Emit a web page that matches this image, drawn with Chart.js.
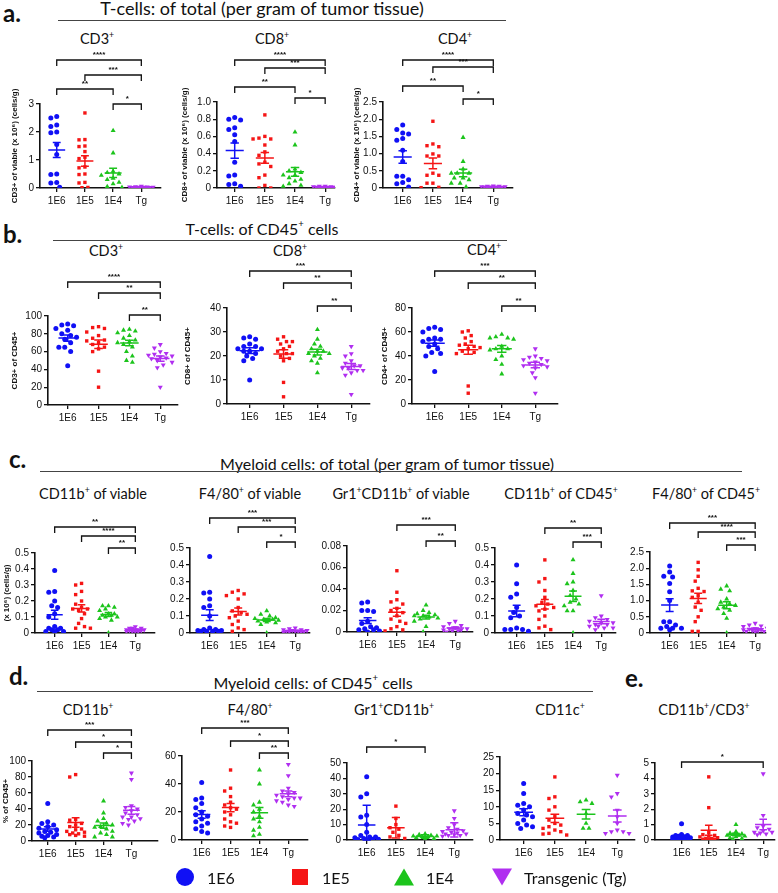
<!DOCTYPE html>
<html>
<head>
<meta charset="utf-8">
<script src="https://cdn.jsdelivr.net/npm/chart.js@4.4.1/dist/chart.umd.min.js"></script>
<style>
  body { margin: 0; background: #fff; }
  #fig { position: relative; width: 778px; height: 893px; overflow: hidden; font-family: Lato, 'Open Sans', sans-serif; color: #111; }
  .t { position: absolute; white-space: nowrap; transform: translate(-50%, -50%); }
  .sec { font-size: 16px; }
  .big { font-size: 18px; }
  .sub { font-size: 14.5px; }
  .letter { position: absolute; font-weight: 700; font-size: 24px; transform: translateY(-50%); }
  .rule { position: absolute; height: 1px; background: #444; }
  sup { font-size: 60%; vertical-align: top; position: relative; top: -0.1em; }
  canvas { position: absolute; }
  .lg { position: absolute; font-size: 16px; transform: translateY(-50%); }
  .mk { position: absolute; transform: translate(-50%, -50%); }
</style>
</head>
<body>
<div id="fig"></div>
<script>
const groups = ['1E6', '1E5', '1E4', 'Tg'];
const colors = ['#1010f5', '#f51515', '#1cc41c', '#b02ef0'];

// a. T-cells of total (x10^6 cells/g)
const cd3Viable = [
  [2.55, 2.5, 2.25, 2.2, 2.0, 1.97, 1.55, 1.2, 0.5, 0.48, 0.2, 0.18, 0.03],
  [2.68, 1.73, 1.72, 1.5, 1.48, 1.3, 1.1, 1.05, 0.75, 0.72, 0.5, 0.48, 0.2, 0.18, 0.02, 0.01],
  [2.05, 1.25, 0.6, 0.55, 0.5, 0.45, 0.35, 0.3, 0.2, 0.15, 0.05, 0.02],
  [0.06, 0.05, 0.04, 0.04, 0.03, 0.03, 0.03, 0.02, 0.02, 0.02, 0.01, 0.01]
];
const cd8Viable = [
  [0.82, 0.8, 0.79, 0.7, 0.68, 0.62, 0.54, 0.3, 0.15, 0.14, 0.05, 0.04, 0.02],
  [0.85, 0.6, 0.58, 0.57, 0.57, 0.5, 0.42, 0.38, 0.3, 0.28, 0.25, 0.15, 0.12, 0.03, 0.0, 0.0],
  [0.65, 0.5, 0.22, 0.2, 0.18, 0.15, 0.15, 0.12, 0.1, 0.08, 0.05, 0.03, 0.02],
  [0.02, 0.02, 0.015, 0.015, 0.01, 0.01, 0.01, 0.01, 0.008, 0.005, 0.005, 0.003]
];
const cd4Viable = [
  [1.83, 1.7, 1.6, 1.57, 1.44, 1.39, 1.1, 0.77, 0.34, 0.34, 0.24, 0.16, 0.12, 0.03],
  [1.94, 1.28, 1.23, 1.2, 0.99, 0.93, 0.93, 0.43, 0.37, 0.37, 0.14, 0.14, 0.02, 0.01],
  [1.47, 0.77, 0.55, 0.43, 0.43, 0.43, 0.29, 0.29, 0.24, 0.14, 0.14, 0.03],
  [0.06, 0.05, 0.05, 0.04, 0.04, 0.03, 0.03, 0.03, 0.02, 0.02, 0.02, 0.01]
];

// b. T-cells of CD45+ (%)
const cd3OfCd45 = [
  [91, 90, 89, 86, 84, 80, 78, 76, 74, 70, 65, 65, 60, 44],
  [88, 87, 86, 82, 78, 75, 73, 72, 70, 68, 65, 63, 60, 38, 20],
  [85, 84, 83, 81, 78, 75, 73, 71, 70, 68, 65, 60, 55, 50, 48],
  [68, 64, 60, 58, 57, 56, 55, 54, 53, 52, 50, 48, 45, 42, 20]
];
const cd8OfCd45 = [
  [28, 27.5, 27, 25, 24, 24, 23, 23, 22, 22, 21, 20, 19, 18, 10],
  [28, 27, 26, 26, 25, 24, 23, 22, 21, 21, 20, 19, 18, 9, 3],
  [31, 27, 25, 24, 23, 22, 22, 21, 21, 20, 19, 18, 17, 13],
  [24, 21, 20, 18, 17, 16, 16, 15, 15, 14, 14, 13, 12, 4]
];
const cd4OfCd45 = [
  [64, 63, 62, 60, 55, 54, 54, 52, 50, 48, 46, 43, 42, 40, 27],
  [61, 60, 57, 55, 52, 50, 49, 48, 47, 46, 44, 43, 42, 15, 9],
  [58, 56, 55, 55, 54, 48, 46, 46, 45, 40, 37, 33, 25],
  [46, 40, 39, 38, 37, 36, 35, 34, 33, 32, 31, 30, 26, 22, 9]
];

// c. Myeloid cells of total
const cd11bViable = [
  [0.39, 0.26, 0.255, 0.2, 0.17, 0.16, 0.12, 0.1, 0.04, 0.03, 0.03, 0.02, 0.02, 0.01, 0.01, 0.01],
  [0.31, 0.3, 0.26, 0.24, 0.2, 0.18, 0.16, 0.15, 0.15, 0.14, 0.12, 0.09, 0.06, 0.04, 0.03, 0.03],
  [0.17, 0.17, 0.16, 0.15, 0.14, 0.12, 0.12, 0.11, 0.11, 0.1, 0.1, 0.09, 0.08, 0.0],
  [0.04, 0.03, 0.03, 0.03, 0.02, 0.02, 0.02, 0.02, 0.02, 0.015, 0.015, 0.01, 0.01, 0.01, 0.01]
];
const f480Viable = [
  [0.45, 0.24, 0.235, 0.2, 0.16, 0.15, 0.1, 0.03, 0.02, 0.02, 0.015, 0.015, 0.01, 0.01, 0.01, 0.01],
  [0.25, 0.24, 0.23, 0.22, 0.2, 0.15, 0.13, 0.12, 0.11, 0.1, 0.09, 0.07, 0.05, 0.03, 0.02, 0.01],
  [0.13, 0.11, 0.1, 0.09, 0.085, 0.08, 0.08, 0.075, 0.07, 0.065, 0.06, 0.05, 0.0],
  [0.03, 0.025, 0.02, 0.02, 0.015, 0.015, 0.01, 0.01, 0.01, 0.01, 0.008, 0.005, 0.005]
];
const gr1Viable = [
  [0.028, 0.027, 0.02, 0.02, 0.019, 0.01, 0.008, 0.005, 0.004, 0.003, 0.002, 0.002, 0.001, 0.0],
  [0.057, 0.037, 0.03, 0.028, 0.026, 0.022, 0.02, 0.018, 0.015, 0.012, 0.01, 0.008, 0.005, 0.003, 0.002, 0.001],
  [0.025, 0.02, 0.018, 0.017, 0.016, 0.015, 0.015, 0.014, 0.013, 0.012, 0.01, 0.005, 0.0],
  [0.01, 0.008, 0.006, 0.005, 0.004, 0.003, 0.003, 0.002, 0.002, 0.001, 0.001, 0.0]
];
const cd11bOfCd45 = [
  [0.4, 0.29, 0.23, 0.21, 0.15, 0.12, 0.1, 0.09, 0.03, 0.02, 0.02, 0.02, 0.01],
  [0.43, 0.32, 0.3, 0.25, 0.21, 0.18, 0.17, 0.16, 0.15, 0.14, 0.13, 0.1, 0.08, 0.04, 0.03, 0.02],
  [0.43, 0.35, 0.3, 0.29, 0.25, 0.22, 0.2, 0.18, 0.17, 0.16, 0.13, 0.13, 0.0],
  [0.22, 0.1, 0.09, 0.08, 0.07, 0.06, 0.06, 0.05, 0.05, 0.04, 0.04, 0.03, 0.03, 0.02]
];
const f480OfCd45 = [
  [2.07, 1.88, 1.75, 1.73, 1.53, 1.27, 1.0, 0.35, 0.35, 0.25, 0.2, 0.15, 0.15, 0.15, 0.1],
  [2.18, 1.95, 1.75, 1.6, 1.38, 1.3, 1.28, 1.15, 1.1, 0.95, 0.8, 0.7, 0.5, 0.35, 0.05, 0.05],
  [1.45, 1.35, 1.3, 1.05, 0.95, 0.9, 0.85, 0.8, 0.75, 0.7, 0.6, 0.45, 0.0],
  [0.3, 0.25, 0.22, 0.2, 0.15, 0.13, 0.12, 0.1, 0.1, 0.08, 0.07, 0.05, 0.05, 0.03]
];

// d. Myeloid cells, % of CD45+
const cd11bPct = [
  [47, 24, 22, 20, 18, 16, 14, 12, 11, 10, 8, 7, 6, 5, 4],
  [83, 80, 27, 26, 22, 20, 18, 15, 14, 12, 11, 10, 9, 8, 7, 6],
  [50, 35, 28, 25, 22, 20, 18, 17, 15, 12, 10, 8, 5, 5],
  [85, 77, 44, 42, 40, 38, 35, 33, 30, 30, 28, 27, 25, 22, 20]
];
const f480Pct = [
  [41, 30, 29, 26, 23, 20, 18, 17, 15, 13, 12, 10, 8, 6, 5],
  [50, 37, 35, 31, 27, 25, 23, 22, 20, 18, 15, 13, 12, 10, 9],
  [50, 40, 27, 25, 22, 20, 17, 15, 13, 9, 7, 4, 3],
  [54, 46, 37, 35, 34, 33, 32, 31, 30, 30, 29, 28, 27, 25, 24]
];
const gr1Pct = [
  [41, 30, 28, 16, 15, 10, 5, 3, 2, 2, 1.5, 1, 0.5, 0.5, 0.3, 0.2],
  [22, 14, 10, 8, 7, 5, 3, 2, 1],
  [4, 3.5, 3, 2.5, 2.5, 2, 2, 1.5, 1, 0.5],
  [19, 14, 10, 8, 7, 6, 5.5, 5, 4.5, 4, 4, 3.5, 3, 3, 2.5]
];
const cd11cPct = [
  [17, 14, 11, 10.5, 10, 9, 8, 7.5, 7, 6, 5, 4.5, 4, 3.5],
  [19, 13, 12.5, 10, 9, 7, 6, 5, 4.5, 4, 3.5, 3, 2.5, 2, 1.8, 1.5],
  [12, 11.5, 11, 8, 5, 3.5, 3.5],
  [19.5, 14, 13, 9, 7, 5, 3, 2.5, 2.5, 2, 2]
];

// e. CD11b+/CD3+ ratio
const cd11bCd3Ratio = [
  [1.05, 0.35, 0.3, 0.3, 0.25, 0.2, 0.2, 0.15, 0.15, 0.1, 0.1, 0.1, 0.05, 0.05],
  [4.1, 2.1, 0.5, 0.35, 0.3, 0.25, 0.2, 0.15, 0.1, 0.1, 0.05, 0.05, 0.05],
  [1.0, 0.55, 0.45, 0.4, 0.35, 0.3, 0.3, 0.25, 0.2, 0.15, 0.1, 0.05],
  [4.3, 1.6, 0.9, 0.8, 0.7, 0.6, 0.5, 0.5, 0.45, 0.4, 0.35]
];

// panel geometry in page pixels: y axis x, first/last category x, axis end, top tick y, zero y
const panels = [
  { data: cd3Viable, axisX: 40, c0: 57, c3: 143, end: 163, top: 104, zero: 188, max: 3, step: 1, dec: 0,
    title: 'CD3+ of viable (x 10\u2076) (cells/g)', left: 10,
    brackets: [[0, 3, 60, '****'], [1, 3, 75, '***'], [0, 2, 89, '**'], [2, 3, 104, '*']] },
  { data: cd8Viable, axisX: 217, c0: 235, c3: 327, end: 337, top: 102, zero: 188, max: 1, step: 0.2, dec: 1,
    title: 'CD8+ of viable (x 10\u2076) (cells/g)', left: 180,
    brackets: [[0, 3, 60, '****'], [1, 3, 68, '***'], [0, 2, 87, '**'], [2, 3, 98, '*']] },
  { data: cd4Viable, axisX: 383, c0: 403, c3: 495, end: 515, top: 102, zero: 188, max: 2.5, step: 0.5, dec: 1,
    title: 'CD4+ of viable (x 10\u2076) (cells/g)', left: 352,
    brackets: [[0, 3, 60, '****'], [1, 3, 67, '***'], [0, 2, 86, '**'], [2, 3, 99, '*']] },

  { data: cd3OfCd45, axisX: 48, c0: 68, c3: 162, end: 180, top: 316, zero: 405, max: 100, step: 20, dec: 0,
    title: 'CD3+ of CD45+', left: 10,
    brackets: [[0, 3, 282, '****'], [1, 3, 293, '**'], [2, 3, 315, '**']] },
  { data: cd8OfCd45, axisX: 227, c0: 250, c3: 353, end: 372, top: 308, zero: 404, max: 40, step: 10, dec: 0,
    title: 'CD8+ of CD45+', left: 183,
    brackets: [[0, 3, 271, '***'], [1, 3, 283, '**'], [2, 3, 306, '**']] },
  { data: cd4OfCd45, axisX: 412, c0: 435, c3: 537, end: 560, top: 308, zero: 404, max: 80, step: 20, dec: 0,
    title: 'CD4+ of CD45+', left: 380,
    brackets: [[0, 3, 271, '***'], [1, 3, 283, '**'], [2, 3, 306, '**']] },

  { data: cd11bViable, axisX: 35, c0: 55, c3: 137, end: 157, top: 553, zero: 633, max: 0.5, step: 0.1, dec: 1,
    title: '(x 10\u2076) (cells/g)', left: 2,
    brackets: [[0, 3, 527, '**'], [1, 3, 536, '****'], [2, 3, 548, '**']] },
  { data: f480Viable, axisX: 190, c0: 210, c3: 297, end: 312, top: 548, zero: 633, max: 0.5, step: 0.1, dec: 1,
    brackets: [[0, 3, 518, '***'], [1, 3, 527, '***'], [2, 3, 542, '*']] },
  { data: gr1Viable, axisX: 347, c0: 368, c3: 457, end: 475, top: 546, zero: 632, max: 0.08, step: 0.02, dec: 2,
    brackets: [[1, 3, 525, '***'], [2, 3, 541, '**']] },
  { data: cd11bOfCd45, axisX: 495, c0: 517, c3: 603, end: 618, top: 548, zero: 633, max: 0.5, step: 0.1, dec: 1,
    brackets: [[1, 3, 528, '**'], [2, 3, 542, '***']] },
  { data: f480OfCd45, axisX: 650, c0: 670, c3: 757, end: 768, top: 552, zero: 633, max: 2.5, step: 0.5, dec: 1,
    brackets: [[0, 3, 523, '***'], [1, 3, 532, '****'], [2, 3, 545, '***']] },

  { data: cd11bPct, axisX: 32, c0: 48, c3: 133, end: 160, top: 761, zero: 841, max: 100, step: 20, dec: 0,
    title: '% of CD45+', left: 1,
    brackets: [[0, 3, 730, '***'], [1, 3, 742, '*'], [2, 3, 753, '*']] },
  { data: f480Pct, axisX: 182, c0: 202, c3: 290, end: 310, top: 756, zero: 840, max: 60, step: 20, dec: 0,
    brackets: [[0, 3, 728, '***'], [1, 3, 741, '*'], [2, 3, 753, '**']] },
  { data: gr1Pct, axisX: 347, c0: 367, c3: 456, end: 475, top: 763, zero: 840, max: 50, step: 10, dec: 0, sd: true,
    brackets: [[0, 2, 747, '*']] },
  { data: cd11cPct, axisX: 500, c0: 524, c3: 619, end: 637, top: 757, zero: 840, max: 25, step: 5, dec: 0,
    brackets: [] },
  { data: cd11bCd3Ratio, axisX: 655, c0: 682, c3: 765, end: 777, top: 763, zero: 840, max: 5, step: 1, dec: 0,
    brackets: [[0, 3, 762, '*']] }
];

const fig = document.getElementById('fig');

function addText(html, x, y, cls) {
  const d = document.createElement('div');
  d.className = cls;
  d.style.left = x + 'px';
  d.style.top = y + 'px';
  d.innerHTML = html;
  fig.appendChild(d);
}
function addRule(x1, x2, y) {
  const d = document.createElement('div');
  d.className = 'rule';
  d.style.left = x1 + 'px';
  d.style.top = y + 'px';
  d.style.width = (x2 - x1) + 'px';
  fig.appendChild(d);
}

// spread points sideways so equal values do not pile up; stay inside the column
function swarm(vals, pxPerUnit, pxPerCat) {
  const placed = [];
  const maxOff = pxPerCat * 0.42;
  const minD2 = 30;
  return vals.slice().sort((a, b) => b - a).map((v) => {
    const yPx = v * pxPerUnit;
    let best = 0, bestD = -1;
    for (let k = 0; k < 40; k++) {
      const cand = (k % 2 ? -1 : 1) * Math.ceil(k / 2) * 3;
      if (Math.abs(cand) > maxOff) break;
      const d = placed.reduce((m, p) => Math.min(m, (p.x - cand) ** 2 + (p.y - yPx) ** 2), Infinity);
      if (d >= minD2) { best = cand; bestD = d; break; }
      if (d > bestD) { best = cand; bestD = d; }
    }
    placed.push({ x: best, y: yPx });
    return { off: best / pxPerCat, v };
  });
}

const meanBars = {
  id: 'meanBars',
  afterDatasetsDraw(chart, args, opts) {
    const { ctx, scales: { x, y } } = chart;
    ctx.save();
    ctx.lineWidth = 1.5;
    opts.groups.forEach((vals, g) => {
      const n = vals.length;
      const m = vals.reduce((s, v) => s + v, 0) / n;
      const sd = Math.sqrt(vals.reduce((s, v) => s + (v - m) ** 2, 0) / (n - 1));
      const e = opts.sd ? sd : sd / Math.sqrt(n);
      const ym = y.getPixelForValue(m), y1 = y.getPixelForValue(m + e), y2 = y.getPixelForValue(Math.max(m - e, 0));
      ctx.strokeStyle = colors[g];
      ctx.beginPath();
      ctx.moveTo(x.getPixelForValue(g - 0.3), ym); ctx.lineTo(x.getPixelForValue(g + 0.3), ym);
      ctx.moveTo(x.getPixelForValue(g), y1); ctx.lineTo(x.getPixelForValue(g), y2);
      ctx.moveTo(x.getPixelForValue(g - 0.14), y1); ctx.lineTo(x.getPixelForValue(g + 0.14), y1);
      ctx.moveTo(x.getPixelForValue(g - 0.14), y2); ctx.lineTo(x.getPixelForValue(g + 0.14), y2);
      ctx.stroke();
    });
    ctx.restore();
  }
};

const sigBrackets = {
  id: 'sigBrackets',
  afterDraw(chart, args, opts) {
    const { ctx, scales: { x } } = chart;
    ctx.save();
    ctx.strokeStyle = '#111';
    ctx.fillStyle = '#111';
    ctx.lineWidth = 1.3;
    ctx.font = 'bold 8px "Liberation Sans", Arial, sans-serif';
    ctx.textAlign = 'center';
    opts.list.forEach(([i, j, py, stars]) => {
      const yy = py - opts.offsetY;
      const x1 = x.getPixelForValue(i), x2 = x.getPixelForValue(j);
      ctx.beginPath();
      ctx.moveTo(x1, yy + 6); ctx.lineTo(x1, yy); ctx.lineTo(x2, yy); ctx.lineTo(x2, yy + 6);
      ctx.stroke();
      ctx.fillText(stars, (x1 + x2) / 2, yy - 3);
    });
    ctx.restore();
  }
};

function drawPanel(p) {
  const s = (p.c3 - p.c0) / 3;
  const xMin = -(p.c0 - p.axisX) / s;
  const xMax = 3 + (p.end - p.c3) / s;
  const left = p.left !== undefined ? p.left : p.axisX - 30;
  const top = Math.min(p.top - 10, ...p.brackets.map((b) => b[2] - 14));
  const bottom = p.zero + 24;
  const w = p.end - left + 2;
  const h = bottom - top;
  const canvas = document.createElement('canvas');
  canvas.width = w; canvas.height = h;
  canvas.style.left = left + 'px'; canvas.style.top = top + 'px';
  canvas.style.width = w + 'px'; canvas.style.height = h + 'px';
  fig.appendChild(canvas);

  const pxPerUnit = (p.zero - p.top) / p.max;
  const datasets = p.data.map((vals, g) => ({
    label: groups[g],
    data: swarm(vals, pxPerUnit, s).map((d) => ({ x: g + d.off, y: d.v })),
    pointStyle: ['circle', 'rect', 'triangle', 'triangle'][g],
    rotation: g === 3 ? 180 : 0,
    pointRadius: [2.5, 2.4, 2.9, 2.9][g],
    backgroundColor: colors[g],
    borderColor: colors[g],
    borderWidth: 0
  }));

  const tickFont = { family: '"Liberation Sans", Arial, sans-serif', size: 10 };
  new Chart(canvas, {
    type: 'scatter',
    data: { datasets },
    options: {
      responsive: false,
      animation: false,
      layout: { padding: { top: p.top - top, right: 2, left: 0, bottom: 0 } },
      plugins: {
        legend: { display: false },
        tooltip: { enabled: false },
        meanBars: { groups: p.data, sd: !!p.sd },
        sigBrackets: { list: p.brackets, offsetY: top }
      },
      scales: {
        x: {
          type: 'linear', min: xMin, max: xMax,
          afterBuildTicks: (ax) => { ax.ticks = [0, 1, 2, 3].map((v) => ({ value: v })); },
          afterFit: (ax) => { ax.height = bottom - p.zero; },
          ticks: { autoSkip: false, maxRotation: 0, color: '#111', font: tickFont, padding: 3, callback: (v) => groups[v] },
          grid: { drawOnChartArea: false, color: '#111', tickLength: 4, lineWidth: 1.3 },
          border: { color: '#111', width: 1.6 }
        },
        y: {
          min: 0, max: p.max,
          afterFit: (ax) => { ax.width = p.axisX - left; },
          ticks: { stepSize: p.step, color: '#111', font: tickFont, padding: 2,
            callback: (v) => (Math.abs(v) < 1e-9 ? '0' : v.toFixed(p.dec)) },
          grid: { drawOnChartArea: false, color: '#111', tickLength: 4, lineWidth: 1.3 },
          border: { color: '#111', width: 1.6 },
          title: { display: !!p.title, text: p.title || '', color: '#111', padding: 0,
            font: { family: '"Liberation Sans", Arial, sans-serif', size: 8, weight: 'bold' } }
        }
      }
    },
    plugins: [meanBars, sigBrackets]
  });
}

// section letters, titles and rules
addText('a.', 3, 12, 'letter');
addText('T-cells: of total (per gram of tumor tissue)', 262, 8, 't big');
addRule(58, 506, 20);
addText('CD3<sup>+</sup>', 97, 38, 't sub');
addText('CD8<sup>+</sup>', 272, 38, 't sub');
addText('CD4<sup>+</sup>', 455, 38, 't sub');

addText('b.', 3, 233, 'letter');
addText('T-cells: of CD45<sup>+</sup> cells', 262, 228, 't sec');
addRule(53, 507, 240);
addText('CD3<sup>+</sup>', 106, 250, 't sub');
addText('CD8<sup>+</sup>', 290, 250, 't sub');
addText('CD4<sup>+</sup>', 484, 249, 't sub');

addText('c.', 9, 458, 'letter');
addText('Myeloid cells: of total (per gram of tumor tissue)', 387, 463, 't sec');
addRule(40, 742, 471);
addText('CD11b<sup>+</sup> of viable', 93, 493, 't sub');
addText('F4/80<sup>+</sup> of viable', 250, 493, 't sub');
addText('Gr1<sup>+</sup>CD11b<sup>+</sup> of viable', 401, 493, 't sub');
addText('CD11b<sup>+</sup> of CD45<sup>+</sup>', 561, 493, 't sub');
addText('F4/80<sup>+</sup> of CD45<sup>+</sup>', 706, 493, 't sub');

addText('d.', 9, 675, 'letter');
addText('Myeloid cells: of CD45<sup>+</sup> cells', 313, 682, 't sec');
addRule(37, 593, 691);
addText('e.', 625, 677, 'letter');
addText('CD11b<sup>+</sup>', 88, 709, 't sub');
addText('F4/80<sup>+</sup>', 250, 709, 't sub');
addText('Gr1<sup>+</sup>CD11b<sup>+</sup>', 394, 709, 't sub');
addText('CD11c<sup>+</sup>', 560, 709, 't sub');
addText('CD11b<sup>+</sup>/CD3<sup>+</sup>', 704, 709, 't sub');

panels.forEach(drawPanel);

// shared legend
const lgY = 877;
const marks = [
  `<div style="width:18px;height:18px;border-radius:50%;background:${colors[0]}"></div>`,
  `<div style="width:16px;height:16px;background:${colors[1]}"></div>`,
  `<div style="width:0;height:0;border-left:10px solid transparent;border-right:10px solid transparent;border-bottom:17px solid ${colors[2]}"></div>`,
  `<div style="width:0;height:0;border-left:10px solid transparent;border-right:10px solid transparent;border-top:17px solid ${colors[3]}"></div>`
];
const lgLabels = ['1E6', '1E5', '1E4', 'Transgenic (Tg)'];
const lgMarkX = [185, 300, 404, 502];
lgLabels.forEach((txt, i) => {
  addText(marks[i], lgMarkX[i], lgY, 'mk');
  addText(txt, lgMarkX[i] + 22, lgY, 'lg');
});
</script>
</body>
</html>
